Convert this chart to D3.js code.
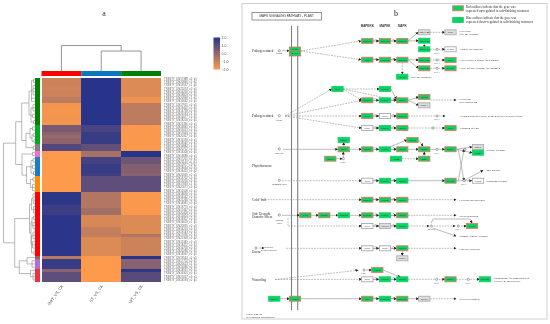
<!DOCTYPE html>
<html>
<head>
<meta charset="utf-8">
<script src="https://d3js.org/d3.v7.min.js"></script>
<style>
  html, body { margin: 0; padding: 0; background: #fff; }
  svg { display: block; opacity: 0.999; }
</style>
</head>
<body>
<div id="chart"></div>
<script>
// ---- heatmap data ----
var columns = ['SWT_VS_CK', 'ST_VS_CK', 'WT_VS_CK'];
var columnColors = ['#ff0000', '#0a78c0', '#008000'];
var rowLabels = [
  'TRINITY_DN17388_c0_g1', 'TRINITY_DN20846_c0_g2', 'TRINITY_DN19537_c1_g1', 'TRINITY_DN21074_c0_g1',
  'TRINITY_DN16230_c0_g1', 'TRINITY_DN18803_c0_g1', 'TRINITY_DN20948_c2_g1', 'TRINITY_DN15662_c0_g1',
  'TRINITY_DN17915_c0_g1', 'TRINITY_DN19402_c0_g1', 'TRINITY_DN14758_c0_g1', 'TRINITY_DN20133_c1_g1',
  'TRINITY_DN16077_c0_g1', 'TRINITY_DN18226_c0_g1', 'TRINITY_DN21390_c0_g1', 'TRINITY_DN13845_c0_g1',
  'TRINITY_DN19021_c0_g1', 'TRINITY_DN17640_c0_g2', 'TRINITY_DN20317_c0_g1', 'TRINITY_DN15193_c0_g1',
  'TRINITY_DN18569_c0_g1', 'TRINITY_DN16884_c1_g1', 'TRINITY_DN20752_c0_g1', 'TRINITY_DN14326_c0_g1',
  'TRINITY_DN19688_c0_g1', 'TRINITY_DN17201_c0_g1', 'TRINITY_DN21143_c0_g1', 'TRINITY_DN15977_c0_g1',
  'TRINITY_DN18034_c0_g1', 'TRINITY_DN16415_c0_g2', 'TRINITY_DN20569_c0_g1', 'TRINITY_DN13702_c0_g1',
  'TRINITY_DN19256_c0_g1', 'TRINITY_DN17833_c1_g1', 'TRINITY_DN20071_c0_g1', 'TRINITY_DN15508_c0_g1',
  'TRINITY_DN18690_c0_g1', 'TRINITY_DN16142_c0_g1', 'TRINITY_DN21266_c0_g1', 'TRINITY_DN14981_c0_g1',
  'TRINITY_DN19775_c0_g1', 'TRINITY_DN17467_c0_g1', 'TRINITY_DN20428_c0_g1', 'TRINITY_DN15824_c0_g1',
  'TRINITY_DN18357_c0_g1', 'TRINITY_DN16629_c1_g1', 'TRINITY_DN20995_c0_g1', 'TRINITY_DN14210_c0_g1',
  'TRINITY_DN19143_c0_g1', 'TRINITY_DN17096_c0_g1', 'TRINITY_DN21308_c0_g2', 'TRINITY_DN15349_c0_g1',
  'TRINITY_DN18472_c0_g1', 'TRINITY_DN16758_c0_g1', 'TRINITY_DN20286_c0_g1', 'TRINITY_DN13967_c0_g1',
  'TRINITY_DN19534_c0_g1', 'TRINITY_DN17722_c0_g1', 'TRINITY_DN20613_c1_g1', 'TRINITY_DN15086_c0_g1',
  'TRINITY_DN18915_c0_g1', 'TRINITY_DN16301_c0_g1', 'TRINITY_DN21027_c0_g1', 'TRINITY_DN14593_c0_g1'
];
var swtValues = [
  -1.1, -1.1, -1.1, -1.15, -1.1, -1.1, -0.8, -0.8,
  -1.8, -1.85, -1.85, -1.85, -1.8, -1.8, -1.85, 0.5,
  0.5, 0.1, -0.1, 0.1, 0.1, 1.2, 1.2, -2,
  -2, -2, -2, -2, -2, -2, -2, -2,
  -2, -2, -2, -2, 1.9, 1.9, 1.9, 1.9,
  1.6, 1.6, 1.6, 1.95, 1.95, 1.95, 1.95, 1.95,
  1.95, 1.95, 1.95, 1.95, 1.95, 1.95, 1.95, 1.95,
  -0.7, 1.7, 1.7, 1.7, 0.2, 1, 1, 1
];
var stValues = [
  2, 2, 2, 2, 2, 2, 2, 2,
  2, 2, 2, 2, 2, 2, 2, 1.4,
  1.4, 1.7, 1.7, 1.7, 1.7, 0.9, 0.9, -0.4,
  -0.4, 1.5, 1.5, 1.7, 1.7, 1.7, 1.6, 1,
  1, 1, 1, 1, -0.6, -0.6, -0.6, -0.6,
  -0.6, -0.3, -0.3, -1.3, -1.3, -1.3, -1.3, -0.9,
  -0.9, -0.9, -1.4, -1.4, -1.4, -1.4, -1.4, -1.4,
  -2, -2, -2, -2, -2, -2, -2, -2
];
var wtValues = [
  -1.4, -1.4, -1.4, -1.4, -1.4, -1.4, -1.7, -1.7,
  -0.8, -0.8, -0.8, -0.8, -0.8, -0.8, -0.8, -1.95,
  -1.95, -1.95, -1.95, -1.95, -1.95, -1.95, -1.95, 2,
  2, 0.7, 0.7, 0.3, 0.3, 0.3, 0.2, 1,
  1, 1, 1, 1, -1.95, -1.95, -1.95, -1.95,
  -1.95, -1.95, -1.95, -1.4, -1.4, -1.4, -1.4, -1.4,
  -1.4, -0.6, -1.1, -1.1, -1.1, -1.1, -1.1, -1.1,
  2, 0.2, 0.2, 0.2, 1.9, 1.1, 1.1, 1.1
];
var colorTicks = [2, 1, 0, -1, -2];

// row clusters: colour, first row, last row
var rowClusters = [
  ['#008000', 0, 14], ['#00aa20', 15, 20], ['#808080', 21, 22], ['#ff69c8', 23, 24],
  ['#1a7fc0', 25, 30], ['#ff8c00', 31, 35], ['#ff0000', 36, 55], ['#a0605a', 56, 56],
  ['#b070d0', 57, 59], ['#f03040', 60, 63]
];

// dendrograms, [height, child, child...], a plain number is a leaf
var columnTree = [25.5, 0, [20, 1, 2]];
var rowTree = [31.5,
  [19.3,
    [13.3,
      [6, [3.5, [1.5, 0, 1], [2, 2, 3, 4, 5], 6, 7], [4, [2, 8, 9, 10], [2.5, 11, 12], [1.5, 13, 14]]],
      [9, [5, [2.5, 15, 16], [3, [1.5, 17, 18], [1, 19, 20]]], [1.5, 21, 22]]
    ],
    [13,
      [2.5, 23, 24],
      [8.5, [4, [2, 25, 26], [2.5, 27, 28], [1.5, 29, 30]], [4.5, [2, 31, 32], [2.5, 33, 34, 35]]]
    ]
  ],
  [20.3,
    [5.5,
      [3.5, [2, 36, 37, 38, 39], [1.5, 40, 41, 42]],
      [4, [3, [1.5, 43, 44], [2, 45, 46, 47]], [3.5, [2, 48, 49, 50], [2.5, 51, 52, 53], [1, 54, 55]]]
    ],
    [15.7, [8, 56, [3, 57, 58, 59]], [4.5, 60, [2, 61, 62, 63]]]
  ]
];

// ---- pathway data, in map units ----
// label, x, y, kind (r red outline, g plain green, w white, s grey)
var pathwayNodes = [
  ['FLS2', 53, 46.5, 'r'], ['BAK1', 53, 50.5, 'r'],
  ['MEKK1', 125.3, 38, 'r'], ['MKK4/5', 143, 38, 'r'], ['MPK3/6', 160.3, 38, 'r'],
  ['ANP1', 125.3, 56.7, 'r'], ['MKK4/5', 143, 56.7, 'r'], ['MPK3/6', 160.3, 56.7, 'r'],
  ['ACS6', 160.3, 73.7, 'g'],
  ['Cf-9', 95.5, 86, 'g'], ['MKK2', 143, 86, 'g'],
  ['MEKK1', 125.3, 97.3, 'r'], ['MKK1', 143, 97.3, 'g'], ['MPK4', 160.3, 97.3, 'r'],
  ['WRKY22', 182.3, 29.3, 's'], ['CML', 208.5, 29.3, 's'],
  ['WRKY25', 182.3, 37.7, 'g'], ['WRKY33', 182.3, 46.3, 'g'], ['PAD3', 208.5, 46.3, 'w'],
  ['WRKY22', 182.3, 57, 'r'], ['WRKY29', 182.3, 65.3, 'r'], ['PR1', 208.5, 57, 'r'], ['NHL10', 208.5, 65.3, 'r'],
  ['MKS1', 182.3, 94, 'r'], ['WRKY', 182.3, 102.3, 's'],
  ['OXI1', 125.3, 113, 'r'], ['MKK', 143, 113, 'w'], ['MPK3/6', 160.3, 113, 'r'],
  ['MKK', 125.3, 125, 'w'], ['MKK3', 143, 125, 'g'], ['MPK8', 160.3, 125, 'r'], ['PR1', 208.5, 125, 'r'],
  ['CTR1', 101.7, 137, 'g'], ['ETR', 101.7, 146.3, 'r'], ['CTR1', 125.3, 146.3, 'r'], ['MKK9', 143, 146.3, 'g'],
  ['MPK6', 160.3, 146.3, 'r'], ['MPK3', 170.5, 137, 'r'], ['EIN3', 182.3, 146.3, 'r'], ['ERF1', 208.5, 146.3, 'r'],
  ['CaM4', 88.3, 155.7, 'r'], ['ACS2', 154, 155.7, 'g'], ['EBF', 182.3, 155.7, 'r'],
  ['PDF1', 236, 144, 's'], ['ChiB', 236, 149.7, 'g'],
  ['MKK', 125.3, 177.7, 'w'], ['MKK3', 143, 177.7, 'g'], ['MPK6', 160.3, 177.7, 'g'], ['MYC2', 208.5, 177.7, 'r'], ['VSP2', 236, 177.7, 'w'],
  ['MEKK1', 125.3, 196.7, 'r'], ['MKK2', 143, 196.7, 'r'], ['MPK4', 160.3, 196.7, 'r'],
  ['PYR', 63.3, 212.3, 'r'], ['PP2C', 82.3, 212.3, 'r'], ['SnRK2', 101.7, 212.3, 'g'],
  ['MAP3K', 125.3, 212.3, 'r'], ['MKK1', 143, 212.3, 'g'], ['MPK6', 160.3, 212.3, 'r'],
  ['MKK', 125.3, 223, 'w'], ['MKK3', 143, 223, 's'], ['MPK8', 160.3, 223, 'g'], ['CAT1', 230, 223, 'r'],
  ['MKK', 125.3, 245.3, 'w'], ['MKK', 143, 245.3, 'w'], ['MPK3', 160.3, 245.3, 'r'], ['WRKY', 160.3, 255.3, 's'],
  ['CDPK', 135.3, 267, 'r'],
  ['MKK', 125.3, 276.3, 'w'], ['MKK3', 143, 276.3, 'g'], ['MPK8', 160.3, 276.3, 'g'], ['WRKY', 208.5, 276.3, 'r'], ['RbohD', 243, 276.3, 'g'],
  ['EPF1', 32.3, 295.7, 'g'], ['TMM', 53, 295.7, 'r'], ['YDA', 125.3, 295.7, 'r'], ['MKK4/5', 143, 295.7, 'g'], ['MPK3/6', 160.3, 295.7, 'r'],
  ['SPCH', 182.3, 295.7, 's']
];

// rows where the MAPKKK, MAPKK and MAPK boxes are chained
var cascadeRows = [38, 56.7, 97.3, 113, 125, 146.3, 177.7, 196.7, 212.3, 223, 245.3, 276.3, 295.7];

// dashed, points
var pathwayEdges = [
  [1, [[58.7, 48], [119, 38]]], [1, [[58.7, 48], [119, 56.7]]], [0, [[40, 47.7], [47, 47.7]]],
  [0, [[166, 38], [176, 29.3]]], [0, [[166, 38], [176.6, 37.7]]], [1, [[187.8, 29.3], [202.8, 29.3]]],
  [0, [[182.3, 40.5], [182.3, 44]]], [1, [[188, 46.3], [202.8, 46.3]]],
  [0, [[166, 56.7], [176.6, 57]]], [0, [[166, 56.7], [176.6, 65.3]]], [1, [[160.3, 59.5], [160.3, 71]]],
  [1, [[188, 57], [202.8, 57]]], [1, [[188, 65.3], [202.8, 65.3]]],
  [1, [[101.2, 86], [137.3, 86]]], [1, [[101.2, 86], [154.6, 97.3]]], [1, [[101.2, 86], [119.6, 97.3]]],
  [0, [[148.7, 86], [154.6, 96]]],
  [1, [[43, 113], [89.8, 86]]], [1, [[43, 113], [119.6, 97.3]]], [1, [[43, 113], [119.6, 113]]], [1, [[43, 113], [119.6, 125]]],
  [0, [[166, 97.3], [176.6, 94]]], [0, [[166, 97.3], [176.6, 102.3]]], [1, [[188, 97], [214, 97]]],
  [1, [[166, 113], [203, 113]]], [1, [[166, 125], [202.8, 125]]],
  [0, [[41, 146.3], [95.8, 146.3]]], [0, [[107.4, 146.3], [119.6, 146.3]]], [0, [[101.7, 143.8], [101.7, 139.5]]],
  [0, [[94, 155.7], [100, 155.7]]], [0, [[101.3, 155.7], [101.3, 149]]],
  [0, [[166, 146.3], [176.6, 146.3]]], [0, [[148.7, 143.5], [164.8, 137]]], [0, [[176.2, 137], [181, 143]]],
  [1, [[159.7, 155.7], [176.6, 155.7]]], [0, [[182.3, 153.2], [182.3, 149]]], [0, [[188, 146.3], [202.8, 146.3]]],
  [0, [[214.2, 146.3], [230, 144]]], [0, [[214.2, 146.3], [230, 149.7]]],
  [0, [[216.3, 146.3], [222, 177.7]]], [0, [[216.3, 177.7], [222, 146.3]]],
  [1, [[40, 177.7], [119.6, 177.7]]], [0, [[166, 177.7], [202.8, 177.7]]], [0, [[214.2, 177.7], [229.8, 177.7]]], [0, [[222, 177.7], [241, 167.3]]],
  [1, [[20, 196.7], [119.6, 196.7]]], [1, [[166, 196.7], [214, 196.7]]],
  [0, [[40, 212.3], [57.6, 212.3]]], [0, [[69, 212.3], [76.6, 212.3]]], [0, [[88, 212.3], [96, 212.3]]],
  [0, [[107.4, 212.3], [119.6, 212.3]]], [1, [[166, 212.3], [214, 212.3]]],
  [1, [[46, 215], [46, 223], [119.6, 223]]], [1, [[166, 223], [187, 223]]], [1, [[191.5, 223], [213, 223]]], [0, [[219, 223], [224.3, 223]]],
  [0, [[189.3, 220], [191, 216], [228, 216], [230, 220]]], [0, [[190.5, 225], [214, 233]]],
  [0, [[17, 245], [22, 245]]], [1, [[44, 245.3], [119.6, 245.3]]], [1, [[166, 245.3], [214, 245.3]]], [0, [[160.3, 248], [160.3, 252.5]]],
  [1, [[33, 276.5], [116, 267.3]]], [1, [[33, 276.5], [119.6, 276.3]]], [0, [[124, 267], [129.6, 267]]], [0, [[141, 267], [158.3, 274]]],
  [1, [[166, 276.3], [202.8, 276.3]]], [1, [[214.2, 276.3], [237.4, 276.3]]],
  [0, [[38, 295.7], [47.4, 295.7]]], [0, [[58.7, 295.7], [119.6, 295.7]]], [0, [[166, 295.7], [176.6, 295.7]]],
  [1, [[188, 295.7], [214, 295.7]]]
];

// small compound circles
var pathwayCircles = [
  [37.3, 47.7], [37.3, 112.7], [37.3, 146], [37.3, 177.3], [37.3, 212], [14, 245], [122, 267],
  [195, 46.3], [195, 57], [195, 65.3], [191, 125], [195, 113], [195, 146.3], [223, 146.3], [222, 177.7],
  [189.3, 223], [216.3, 223], [194.7, 276.3], [226.3, 276.3], [101.3, 155.7]
];

// text, x, y
var pathwayLabels = [
  ['Pathogen attack', 10, 47.7], ['Pathogen attack', 10, 113.3], ['Phytohormone', 10, 162.7], ['Cold/ Salt', 10, 196.7],
  ['Salt/ Drought', 10, 211], ['Osmotic Stress', 10, 214.3], ['Ozone', 10, 249], ['Wounding', 10, 276.7]
];
var pathwayCompounds = [
  ['flg22', 37.3, 50.5], ['ROSs', 37.3, 116.7], ['Ethylene', 37.3, 150], ['Jasmonic acid', 37.3, 181],
  ['Abscisic', 37.3, 217], ['acid', 37.3, 220], ['Reactive', 27, 244.5], ['oxygen species', 27, 247.3],
  ['Ca2+', 101.3, 159.3], ['Ca2+', 122, 270.5],
  ['DNA', 195, 50], ['DNA', 195, 60.5], ['DNA', 195, 68.8], ['DNA', 195, 116.5], ['DNA', 195, 149.8], ['DNA', 222, 181],
  ['MYCs', 189.3, 226.5], ['DNA', 216.3, 226.5], ['DNA', 194.7, 279.8], ['DNA', 226.3, 279.8]
];
var pathwayOutcomes = [
  ['Cell death', 217.3, 28.5], ['Defense response', 217.3, 31.5], ['Camalexin synthesis', 218, 46.3],
  ['Late defense response for pathogen', 218, 57], ['Early defense response for pathogen', 218, 65.3],
  ['Ethylene synthesis', 168.7, 73.7], ['Cell death', 217.3, 96.3], ['ROS production', 217.3, 99.5],
  ['Accumulation of reactive oxygen species in plant defense', 217.3, 113], ['Pathogen defense', 218, 125],
  ['Defense response', 244, 147], ['Root growth', 244, 167.3], ['Wounding response', 244, 177.7],
  ['Freezing/cold tolerance', 217.3, 196.7], ['Stress adaptation', 217.3, 212.7], ['Stomatal closure response', 217.3, 232.7],
  ['Ethylene synthesis', 217.3, 245.7], ['Maintenance for homeostasis of', 252.3, 275], ['reactive oxygen species', 252.3, 278],
  ['Seed development', 217.3, 296]
];
var mapHeaders = [['MAPKKK', 125.3], ['MAPKK', 143], ['MAPK', 160.3]];
var legendItems = [
  ['Red outlines indicate that the gene was', 'expressed up-regulated in salt-finishing treatment', 'r'],
  ['Blue outlines indicate that the gene was', 'expressed down-regulated in salt-finishing treatment', 'g']
];

// ---- drawing ----
var svg = d3.select('#chart').append('svg').attr('width', 550).attr('height', 324);
var serif = '"Liberation Serif", serif';
var sans = '"Liberation Sans", sans-serif';

var colX = d3.scaleBand().domain(columns).range([41.5, 161]);
var rowY = d3.scaleBand().domain(rowLabels).range([77.5, 281.5]);
var color = d3.scaleLinear().domain([-2, 2]).range(['#fd9a4c', '#28348a']);
var colHeight = d3.scaleLinear().domain([0, 25.5]).range([71, 45.5]);
var rowHeight = d3.scaleLinear().domain([0, 31.5]).range([35, 3.5]);
var legendY = d3.scaleLinear().domain([2, -2]).range([37.5, 69.5]);

svg.append('text').attr('x', 104).attr('y', 15.5).attr('text-anchor', 'middle')
  .attr('font-family', serif).attr('font-size', 8).attr('fill', '#333').text('a');

var seriesList = [swtValues, stValues, wtValues];
seriesList.forEach(function (values, c) {
  svg.append('g').selectAll('rect').data(values).enter().append('rect')
    .attr('x', colX(columns[c]))
    .attr('y', function (d, i) { return rowY(rowLabels[i]); })
    .attr('width', colX.bandwidth())
    .attr('height', rowY.bandwidth())
    .attr('shape-rendering', 'crispEdges')
    .attr('fill', function (d) { return color(d); });
});

// column colour strip
svg.append('g').selectAll('rect').data(columns).enter().append('rect')
  .attr('x', function (d) { return colX(d); })
  .attr('y', 71).attr('width', colX.bandwidth()).attr('height', 5)
  .attr('fill', function (d, i) { return columnColors[i]; });

// row colour strip
svg.append('g').selectAll('rect').data(rowClusters).enter().append('rect')
  .attr('x', 35.3).attr('width', 4.7)
  .attr('y', function (d) { return rowY(rowLabels[d[1]]); })
  .attr('height', function (d) { return rowY.bandwidth() * (d[2] - d[1] + 1); })
  .attr('shape-rendering', 'crispEdges')
  .attr('fill', function (d) { return d[0]; });

// gene labels
svg.append('g').selectAll('text').data(rowLabels).enter().append('text')
  .attr('x', 164)
  .attr('y', function (d) { return rowY(d) + rowY.bandwidth() / 2; })
  .attr('dy', '0.35em')
  .attr('font-family', sans).attr('font-size', 2.75).attr('fill', '#666')
  .text(function (d) { return d; });

// column labels
svg.append('g').selectAll('text').data(columns).enter().append('text')
  .attr('transform', function (d) {
    return 'translate(' + (colX(d) + colX.bandwidth() / 2 + 2) + ',286) rotate(-55)';
  })
  .attr('text-anchor', 'end')
  .attr('font-family', sans).attr('font-size', 4).attr('fill', '#555')
  .text(function (d) { return d; });

// dendrograms
function drawTree(tree, leafPos, heightPos, horizontal, width) {
  var root = d3.hierarchy(tree, function (d) { return Array.isArray(d) ? d.slice(1) : null; });
  root.eachAfter(function (n) {
    if (n.children) {
      n.pos = (n.children[0].pos + n.children[n.children.length - 1].pos) / 2;
      n.h = heightPos(n.data[0]);
    } else {
      n.pos = leafPos(n.data);
      n.h = heightPos(0);
    }
  });
  var path = d3.path();
  function seg(p1, h1, p2, h2) {
    if (horizontal) { path.moveTo(h1, p1); path.lineTo(h2, p2); }
    else { path.moveTo(p1, h1); path.lineTo(p2, h2); }
  }
  root.descendants().forEach(function (n) {
    if (!n.children) return;
    seg(n.children[0].pos, n.h, n.children[n.children.length - 1].pos, n.h);
    n.children.forEach(function (k) { seg(k.pos, n.h, k.pos, k.h); });
  });
  svg.append('path').attr('d', path.toString()).attr('fill', 'none')
    .attr('stroke', '#8a8a8a').attr('stroke-width', width);
}
drawTree(columnTree, function (i) { return colX(columns[i]) + colX.bandwidth() / 2; }, colHeight, false, 0.9);
drawTree(rowTree, function (i) { return rowY(rowLabels[i]) + rowY.bandwidth() / 2; }, rowHeight, true, 0.6);

// colour bar
var grad = svg.append('defs').append('linearGradient').attr('id', 'bar')
  .attr('x1', 0).attr('x2', 0).attr('y1', 0).attr('y2', 1);
colorTicks.forEach(function (t, i) {
  grad.append('stop').attr('offset', i / (colorTicks.length - 1)).attr('stop-color', color(t));
});
svg.append('rect').attr('x', 213.5).attr('y', legendY(2)).attr('width', 6.5)
  .attr('height', legendY(-2) - legendY(2)).attr('fill', 'url(#bar)');
var barAxis = svg.append('g').attr('transform', 'translate(220,0)')
  .call(d3.axisRight(legendY).tickValues(colorTicks).tickSize(0).tickPadding(1.5));
barAxis.select('.domain').remove();
barAxis.selectAll('text').attr('font-family', sans).attr('font-size', 3.5).attr('fill', '#555');

// ---- pathway panel ----
var mapX = d3.scaleLinear().domain([0, 305]).range([242, 547]);
var mapY = d3.scaleLinear().domain([0, 316]).range([3, 319]);
var boxW = 11.3, boxH = 5;
var nodeFill = { r: '#0cd264', g: '#0cd264', w: '#ffffff', s: '#dddddd' };
var nodeStroke = { r: '#f0705a', g: '#0cd264', w: '#a0a0a0', s: '#a8a8a8' };

svg.append('defs').append('marker').attr('id', 'tip')
  .attr('markerUnits', 'userSpaceOnUse')
  .attr('viewBox', '0 0 6 6').attr('refX', 5).attr('refY', 3)
  .attr('markerWidth', 3).attr('markerHeight', 3).attr('orient', 'auto')
  .append('path').attr('d', 'M0,0L6,3L0,6Z').attr('fill', '#222');

svg.append('rect').attr('x', mapX(0)).attr('y', mapY(0.5)).attr('width', mapX(305) - mapX(0))
  .attr('height', mapY(316) - mapY(0.5)).attr('fill', 'none').attr('stroke', '#cfcfcf').attr('stroke-width', 1);

svg.append('text').attr('x', 396).attr('y', 16).attr('text-anchor', 'middle')
  .attr('font-family', serif).attr('font-size', 8).attr('fill', '#222').text('b');

// map title
svg.append('rect').attr('x', mapX(10)).attr('y', mapY(9.5)).attr('width', 69.5).attr('height', 7.5)
  .attr('fill', '#fff').attr('stroke', '#888').attr('stroke-width', 0.9);
svg.append('text').attr('x', mapX(10) + 34.7).attr('y', mapY(13.3)).attr('dy', '0.35em').attr('text-anchor', 'middle')
  .attr('font-family', sans).attr('font-size', 3.1).attr('fill', '#333').text('MAPK SIGNALING PATHWAY - PLANT');

// membrane
[49.5, 55.7].forEach(function (x) {
  svg.append('line').attr('x1', mapX(x)).attr('x2', mapX(x)).attr('y1', mapY(23)).attr('y2', mapY(307))
    .attr('stroke', '#808080').attr('stroke-width', 1.1);
});

var mapLine = d3.line().x(function (d) { return mapX(d[0]); }).y(function (d) { return mapY(d[1]); });

svg.append('g').selectAll('path').data(pathwayEdges).enter().append('path')
  .attr('d', function (d) { return mapLine(d[1]); })
  .attr('fill', 'none').attr('stroke', '#8f8f8f').attr('stroke-width', 0.6)
  .attr('stroke-dasharray', function (d) { return d[0] ? '1.8 1' : null; })
  .attr('marker-end', 'url(#tip)');

// kinase cascade links
var cascadeLinks = svg.append('g');
cascadeRows.forEach(function (y) {
  [131, 148.7].forEach(function (x) {
    cascadeLinks.append('line').attr('x1', mapX(x)).attr('x2', mapX(x + 5.8)).attr('y1', mapY(y)).attr('y2', mapY(y))
      .attr('stroke', '#555').attr('stroke-width', 0.6).attr('marker-end', 'url(#tip)');
    cascadeLinks.append('text').attr('x', mapX(x + 2.4)).attr('y', mapY(y - 1.2))
      .attr('text-anchor', 'middle').attr('font-family', sans).attr('font-size', 2.3).attr('fill', '#555').text('+p');
  });
});

svg.append('g').selectAll('circle').data(pathwayCircles).enter().append('circle')
  .attr('cx', function (d) { return mapX(d[0]); })
  .attr('cy', function (d) { return mapY(d[1]); })
  .attr('r', 1.1).attr('fill', '#fff').attr('stroke', '#555').attr('stroke-width', 0.5);

var nodes = svg.append('g').selectAll('g').data(pathwayNodes).enter().append('g')
  .attr('transform', function (d) { return 'translate(' + mapX(d[1]) + ',' + mapY(d[2]) + ')'; });
nodes.append('rect').attr('x', -boxW / 2).attr('y', -boxH / 2).attr('width', boxW).attr('height', boxH)
  .attr('fill', function (d) { return nodeFill[d[3]]; })
  .attr('stroke', function (d) { return nodeStroke[d[3]]; })
  .attr('stroke-width', 0.8);
nodes.append('text').attr('text-anchor', 'middle').attr('dy', '0.35em')
  .attr('font-family', sans).attr('font-size', 2.5).attr('fill', '#333')
  .text(function (d) { return d[0]; });

function addLabels(list, size, anchor) {
  svg.append('g').selectAll('text').data(list).enter().append('text')
    .attr('x', function (d) { return mapX(d[1]); })
    .attr('y', function (d) { return mapY(d[2]); })
    .attr('dy', '0.35em').attr('text-anchor', anchor)
    .attr('font-family', serif).attr('font-size', size).attr('fill', '#333')
    .text(function (d) { return d[0]; });
}
addLabels(pathwayLabels, 3.4, 'start');
addLabels(pathwayCompounds, 2.6, 'middle');
addLabels(pathwayOutcomes, 2.75, 'start');

svg.append('g').selectAll('text').data(mapHeaders).enter().append('text')
  .attr('x', function (d) { return mapX(d[1]); }).attr('y', mapY(22.7)).attr('dy', '0.35em')
  .attr('text-anchor', 'middle').attr('font-family', sans).attr('font-size', 3).attr('font-weight', 'bold').attr('fill', '#333')
  .text(function (d) { return d[0]; });

// legend
var legend = svg.append('g').selectAll('g').data(legendItems).enter().append('g')
  .attr('transform', function (d, i) { return 'translate(0,' + (i * 11.7) + ')'; });
legend.append('rect').attr('x', mapX(210.7)).attr('y', mapY(2.8)).attr('width', 10.6).attr('height', 5)
  .attr('fill', '#0cd264')
  .attr('stroke', function (d) { return nodeStroke[d[2]]; }).attr('stroke-width', 0.8);
legend.append('text').attr('x', mapX(223.7)).attr('y', mapY(4.5))
  .attr('font-family', serif).attr('font-size', 3.2).attr('fill', '#333').text(function (d) { return d[0]; });
legend.append('text').attr('x', mapX(223.7)).attr('y', mapY(8.5))
  .attr('font-family', serif).attr('font-size', 3.2).attr('fill', '#333').text(function (d) { return d[1]; });

// footer
svg.append('text').attr('x', mapX(4)).attr('y', mapY(311.8)).attr('font-family', sans).attr('font-size', 2.5).attr('fill', '#444').text('04016 8/26/17');
svg.append('text').attr('x', mapX(4)).attr('y', mapY(315)).attr('font-family', sans).attr('font-size', 2.5).attr('fill', '#444').text('(c) Kanehisa Laboratories');
</script>
</body>
</html>
